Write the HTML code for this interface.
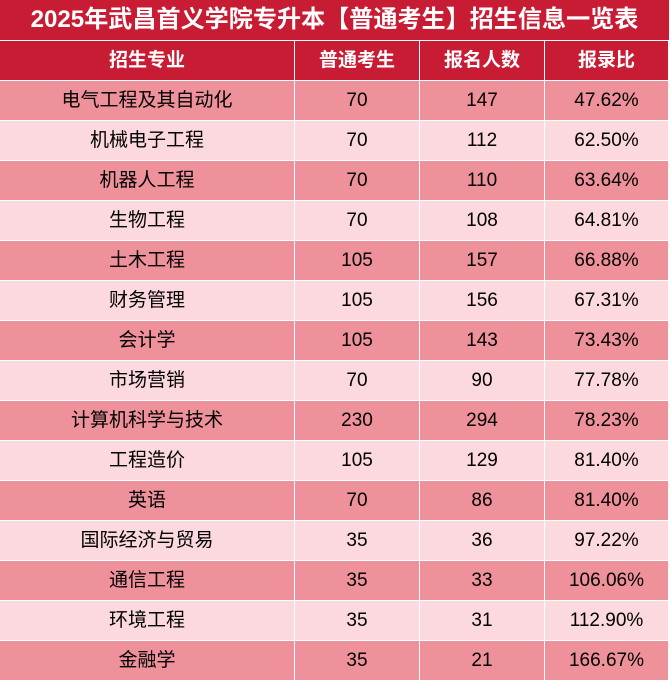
<!DOCTYPE html>
<html><head><meta charset="utf-8">
<style>
html,body{margin:0;padding:0;background:#fff;}
body{width:670px;height:681px;position:relative;overflow:hidden;font-family:"Liberation Sans","Noto Sans CJK SC",sans-serif;}
.title{position:absolute;left:0;top:0;width:669px;height:40px;background:#c81c35;color:#fff;font-weight:bold;font-size:24.1px;line-height:40px;text-align:center;font-family:"Liberation Sans","Noto Sans CJK SC",sans-serif;white-space:nowrap;}
.row{position:absolute;left:0;width:669px;height:39px;}
.c{position:absolute;top:0;height:39px;line-height:40px;text-align:center;font-size:19px;color:#000;}
.c0{left:0;width:294px;}
.c1{left:295px;width:124px;}
.c2{left:420px;width:124px;}
.c3{left:545px;width:123px;}
.hd .c{background:#c81c35;color:#fff;font-weight:bold;}
.d .c{background:#ee919a;}
.l .c{background:#fbd9de;}
</style></head><body>
<div class="title">2025年武昌首义学院专升本【普通考生】招生信息一览表</div>
<div class="row hd" style="top:41px"><div class="c c0">招生专业</div><div class="c c1">普通考生</div><div class="c c2">报名人数</div><div class="c c3">报录比</div></div>
<div class="row d" style="top:81px"><div class="c c0">电气工程及其自动化</div><div class="c c1">70</div><div class="c c2">147</div><div class="c c3">47.62%</div></div>
<div class="row l" style="top:121px"><div class="c c0">机械电子工程</div><div class="c c1">70</div><div class="c c2">112</div><div class="c c3">62.50%</div></div>
<div class="row d" style="top:161px"><div class="c c0">机器人工程</div><div class="c c1">70</div><div class="c c2">110</div><div class="c c3">63.64%</div></div>
<div class="row l" style="top:201px"><div class="c c0">生物工程</div><div class="c c1">70</div><div class="c c2">108</div><div class="c c3">64.81%</div></div>
<div class="row d" style="top:241px"><div class="c c0">土木工程</div><div class="c c1">105</div><div class="c c2">157</div><div class="c c3">66.88%</div></div>
<div class="row l" style="top:281px"><div class="c c0">财务管理</div><div class="c c1">105</div><div class="c c2">156</div><div class="c c3">67.31%</div></div>
<div class="row d" style="top:321px"><div class="c c0">会计学</div><div class="c c1">105</div><div class="c c2">143</div><div class="c c3">73.43%</div></div>
<div class="row l" style="top:361px"><div class="c c0">市场营销</div><div class="c c1">70</div><div class="c c2">90</div><div class="c c3">77.78%</div></div>
<div class="row d" style="top:401px"><div class="c c0">计算机科学与技术</div><div class="c c1">230</div><div class="c c2">294</div><div class="c c3">78.23%</div></div>
<div class="row l" style="top:441px"><div class="c c0">工程造价</div><div class="c c1">105</div><div class="c c2">129</div><div class="c c3">81.40%</div></div>
<div class="row d" style="top:481px"><div class="c c0">英语</div><div class="c c1">70</div><div class="c c2">86</div><div class="c c3">81.40%</div></div>
<div class="row l" style="top:521px"><div class="c c0">国际经济与贸易</div><div class="c c1">35</div><div class="c c2">36</div><div class="c c3">97.22%</div></div>
<div class="row d" style="top:561px"><div class="c c0">通信工程</div><div class="c c1">35</div><div class="c c2">33</div><div class="c c3">106.06%</div></div>
<div class="row l" style="top:601px"><div class="c c0">环境工程</div><div class="c c1">35</div><div class="c c2">31</div><div class="c c3">112.90%</div></div>
<div class="row d" style="top:641px"><div class="c c0">金融学</div><div class="c c1">35</div><div class="c c2">21</div><div class="c c3">166.67%</div></div>
</body></html>
